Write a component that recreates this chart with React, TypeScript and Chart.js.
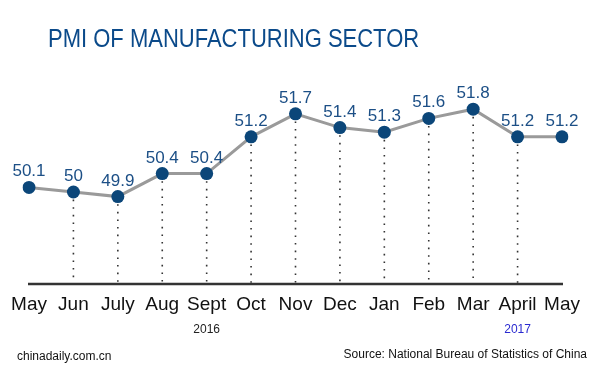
import React, { useEffect, useRef } from "react";
import { Chart, registerables } from "chart.js";

Chart.register(...registerables);

const months = ["May", "Jun", "July", "Aug", "Sept", "Oct", "Nov", "Dec", "Jan", "Feb", "Mar", "April", "May"];
const pmiValues = [50.1, 50, 49.9, 50.4, 50.4, 51.2, 51.7, 51.4, 51.3, 51.6, 51.8, 51.2, 51.2];
const yearLabels = [
  { index: 4, text: "2016", color: "#222222" },
  { index: 11, text: "2017", color: "#2a2ad0" },
];
const titleText = "PMI OF MANUFACTURING SECTOR";
const siteText = "chinadaily.com.cn";
const sourceText = "Source: National Bureau of Statistics of China";

const FONT = "Arial, 'Liberation Sans', sans-serif";

const decorPlugin = {
  id: "decor",
  beforeDatasetsDraw(chart: any) {
    const { ctx, chartArea } = chart;
    const meta = chart.getDatasetMeta(0);
    const xs = chart.scales.x;
    ctx.save();
    // dotted drop lines
    ctx.strokeStyle = "#333333";
    ctx.lineWidth = 1.6;
    ctx.setLineDash([1.6, 6]);
    meta.data.forEach((pt: any, i: number) => {
      if (i === 0 || i === meta.data.length - 1) return;
      ctx.beginPath();
      ctx.moveTo(pt.x, pt.y);
      ctx.lineTo(pt.x, chartArea.bottom);
      ctx.stroke();
    });
    ctx.setLineDash([]);
    // baseline
    ctx.strokeStyle = "#333333";
    ctx.lineWidth = 2.6;
    ctx.beginPath();
    ctx.moveTo(xs.getPixelForValue(0) - 1, chartArea.bottom);
    ctx.lineTo(xs.getPixelForValue(months.length - 1) + 1, chartArea.bottom);
    ctx.stroke();
    ctx.restore();
  },
  afterDatasetsDraw(chart: any) {
    const { ctx } = chart;
    const meta = chart.getDatasetMeta(0);
    const xs = chart.scales.x;
    ctx.save();
    // value labels
    ctx.fillStyle = "#1c4f86";
    ctx.font = `17px ${FONT}`;
    ctx.textAlign = "center";
    ctx.textBaseline = "alphabetic";
    meta.data.forEach((pt: any, i: number) => {
      ctx.fillText(String(pmiValues[i]), pt.x, pt.y - 11);
    });
    // title (slightly condensed like the original)
    ctx.save();
    ctx.fillStyle = "#0b4a8a";
    ctx.font = `25px ${FONT}`;
    ctx.textAlign = "left";
    ctx.textBaseline = "middle";
    ctx.translate(48, 40);
    ctx.scale(0.88, 1);
    ctx.fillText(titleText, 0, 0);
    ctx.restore();
    // year labels
    ctx.font = `12px ${FONT}`;
    ctx.textAlign = "center";
    ctx.textBaseline = "middle";
    yearLabels.forEach((y) => {
      ctx.fillStyle = y.color;
      ctx.fillText(y.text, xs.getPixelForValue(y.index), 330);
    });
    // footer
    ctx.fillStyle = "#111111";
    ctx.font = `12px ${FONT}`;
    ctx.textAlign = "left";
    ctx.fillText(siteText, 17, 357);
    ctx.textAlign = "right";
    ctx.fillText(sourceText, 587, 355);
    ctx.restore();
  },
};

export default function App() {
  const canvasRef = useRef<HTMLCanvasElement>(null);

  useEffect(() => {
    document.body.style.margin = "0";
    const canvas = canvasRef.current;
    if (!canvas) return;
    const chart = new Chart(canvas, {
      type: "line",
      data: {
        labels: months,
        datasets: [
          {
            data: pmiValues,
            borderColor: "#9a9a9a",
            borderWidth: 3,
            pointRadius: 6.5,
            pointHoverRadius: 6.5,
            pointBackgroundColor: "#0b4679",
            pointBorderColor: "#0b4679",
            pointBorderWidth: 0,
            tension: 0,
            fill: false,
          },
        ],
      },
      options: {
        animation: false,
        responsive: false,
        maintainAspectRatio: false,
        layout: { padding: { left: 29, right: 38, top: 77, bottom: 50 } },
        plugins: {
          legend: { display: false },
          title: { display: false },
          tooltip: { enabled: false },
        },
        scales: {
          x: {
            type: "category",
            offset: false,
            grid: { display: false, drawTicks: false },
            border: { display: false },
            ticks: {
              color: "#111111",
              font: { family: FONT, size: 19 },
              padding: 9,
              maxRotation: 0,
              autoSkip: false,
            },
            afterFit: (scale: any) => {
              scale.height = 40;
            },
          },
          y: {
            display: false,
            min: 48,
            max: 52.5,
          },
        },
      },
      plugins: [decorPlugin],
    });
    return () => chart.destroy();
  }, []);

  return (
    <div style={{ width: 600, height: 374, background: "#ffffff" }}>
      <canvas ref={canvasRef} width={600} height={374} style={{ display: "block" }} />
    </div>
  );
}
